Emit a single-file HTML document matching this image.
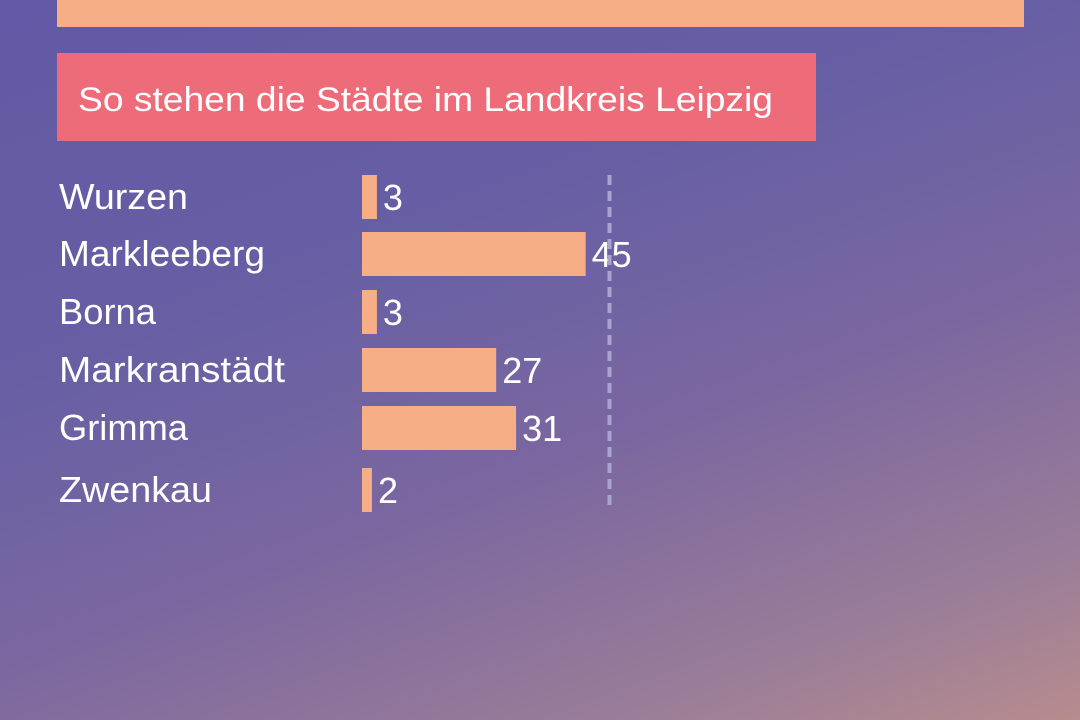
<!DOCTYPE html>
<html><head><meta charset="utf-8"><style>
html,body{margin:0;padding:0;width:1080px;height:720px;overflow:hidden}
body{background:linear-gradient(160deg,#6159a5 0%,#675fa4 35%,#7b67a0 60%,#9a7d98 85%,#b78c8e 100%);font-family:"Liberation Sans",sans-serif}
</style></head><body>
<svg width="1080" height="720" style="position:absolute;left:0;top:0">
<rect x="57" y="0" width="967" height="27" fill="#f6ae86"/>
<rect x="57" y="53" width="759" height="88" fill="#ee6b79"/>
<text x="78" y="111" font-size="34" fill="#fff" textLength="695" lengthAdjust="spacingAndGlyphs">So stehen die Städte im Landkreis Leipzig</text>
<g id="bars"></g>
</svg>
<script>
const categories=["Wurzen","Markleeberg","Borna","Markranstädt","Grimma","Zwenkau"];
const values=[3,45,3,27,31,2];
const refValue=50;
const rowTops=[175,232,290,348,406,468];
const x0=362, scale=4.97, barH=44;
const xs=v=>x0+v*scale;
const g=document.getElementById('bars');
const NS="http://www.w3.org/2000/svg";
const labelW={"Wurzen":129,"Markleeberg":206,"Borna":97,"Markranstädt":226,"Grimma":129,"Zwenkau":153};
categories.forEach((c,i)=>{
  const y=rowTops[i];
  const t=document.createElementNS(NS,'text');
  t.setAttribute('x',59);t.setAttribute('y',y+34);
  t.setAttribute('font-size','36');t.setAttribute('fill','#fff');
  t.setAttribute('textLength',labelW[c]);t.setAttribute('lengthAdjust','spacingAndGlyphs');
  t.textContent=c;
  
  
  g.appendChild(t);
  const r=document.createElementNS(NS,'rect');
  r.setAttribute('x',x0);r.setAttribute('y',y);
  r.setAttribute('width',Math.max(6,xs(values[i])-x0));r.setAttribute('height',barH);
  r.setAttribute('fill','#f6ae86');
  
  
  g.appendChild(r);
  const v=document.createElementNS(NS,'text');
  v.setAttribute('x',x0+Math.max(6,xs(values[i])-x0)+6);v.setAttribute('y',y+35);
  v.setAttribute('font-size','36');v.setAttribute('fill','#fff');
  v.textContent=values[i];
  
  
  g.appendChild(v);
});
const l=document.createElementNS(NS,'line');
l.setAttribute('x1',xs(refValue)-1);l.setAttribute('x2',xs(refValue)-1);
l.setAttribute('y1',175);l.setAttribute('y2',511);
l.setAttribute('stroke','#a9a3d0');l.setAttribute('stroke-width','4');l.setAttribute('stroke-dasharray','10 6');


g.appendChild(l);
</script>
</body></html>
